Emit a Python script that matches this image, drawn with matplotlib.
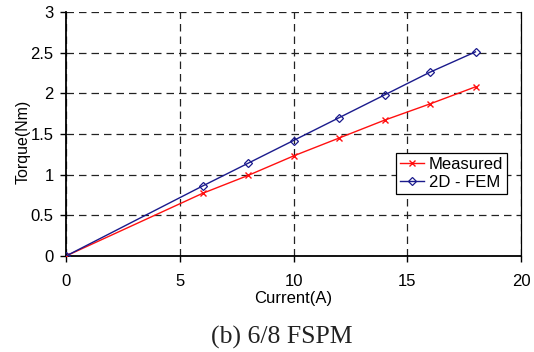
import matplotlib
matplotlib.use('Agg')
import matplotlib.pyplot as plt

# Torque vs phase current, 6/8 FSPM
current = [0, 6, 8, 10, 12, 14, 16, 18]
torque_measured = [0, 0.77, 0.99, 1.23, 1.45, 1.67, 1.87, 2.08]
torque_fem = [0, 0.86, 1.14, 1.42, 1.70, 1.98, 2.26, 2.51]

x_ticks = [0, 5, 10, 15, 20]
y_ticks = [0, 0.5, 1, 1.5, 2, 2.5, 3]

plt.rcParams['font.family'] = ['Liberation Sans', 'DejaVu Sans']

fig = plt.figure(figsize=(5.34, 3.52), dpi=100)
ax = fig.add_axes([66 / 534, 1 - 256 / 352, 455 / 534, 244 / 352])

ax.plot(current, torque_measured, color='#ff1010', lw=1.0, marker='x',
        ms=5, mew=1.0, label='Measured', zorder=3)
ax.plot(current, torque_fem, color='#1a1a8c', lw=1.0, marker='D',
        ms=4, mew=0.9, mfc='none', label='2D - FEM', zorder=3)

ax.set_xlim(0, 20)
ax.set_ylim(0, 3)
ax.set_xticks(x_ticks)
ax.set_yticks(y_ticks)
ax.set_xticklabels([str(t) for t in x_ticks])
ax.set_yticklabels([f'{t:g}' for t in y_ticks])
ax.grid(True, color='#222222', ls=(0, (6, 4)), lw=0.9)
ax.tick_params(labelsize=12, length=4, width=1, direction='out')
ax.tick_params(axis='y', pad=5)
ax.tick_params(axis='x', pad=9)

ax.spines['top'].set_visible(False)
ax.spines['left'].set_linewidth(1.3)
ax.spines['bottom'].set_linewidth(1.3)
ax.spines['right'].set_linewidth(0.9)

# axis titles placed in figure pixels
fig.text(293.5 / 534, 1 - 299 / 352, 'Current(A)', ha='center', va='center',
         fontsize=12)
fig.text(23.5 / 534, 1 - 142 / 352, 'Torque(Nm)', ha='center', va='center',
         rotation=90, fontsize=11.5)

leg = ax.legend(loc='lower right', bbox_to_anchor=(0.97, 0.255), fontsize=12,
                fancybox=False, framealpha=1, edgecolor='black',
                handlelength=1.4, handletextpad=0.3, borderpad=0.25,
                labelspacing=0.15, borderaxespad=0)
leg.get_frame().set_linewidth(0.9)

fig.text(282 / 534, 1 - 344 / 352, '(b) 6/8 FSPM', ha='center', va='baseline',
         fontsize=18.5, family=['Liberation Serif', 'DejaVu Serif'], color='#222222')

fig.savefig('out.png', dpi=100)
